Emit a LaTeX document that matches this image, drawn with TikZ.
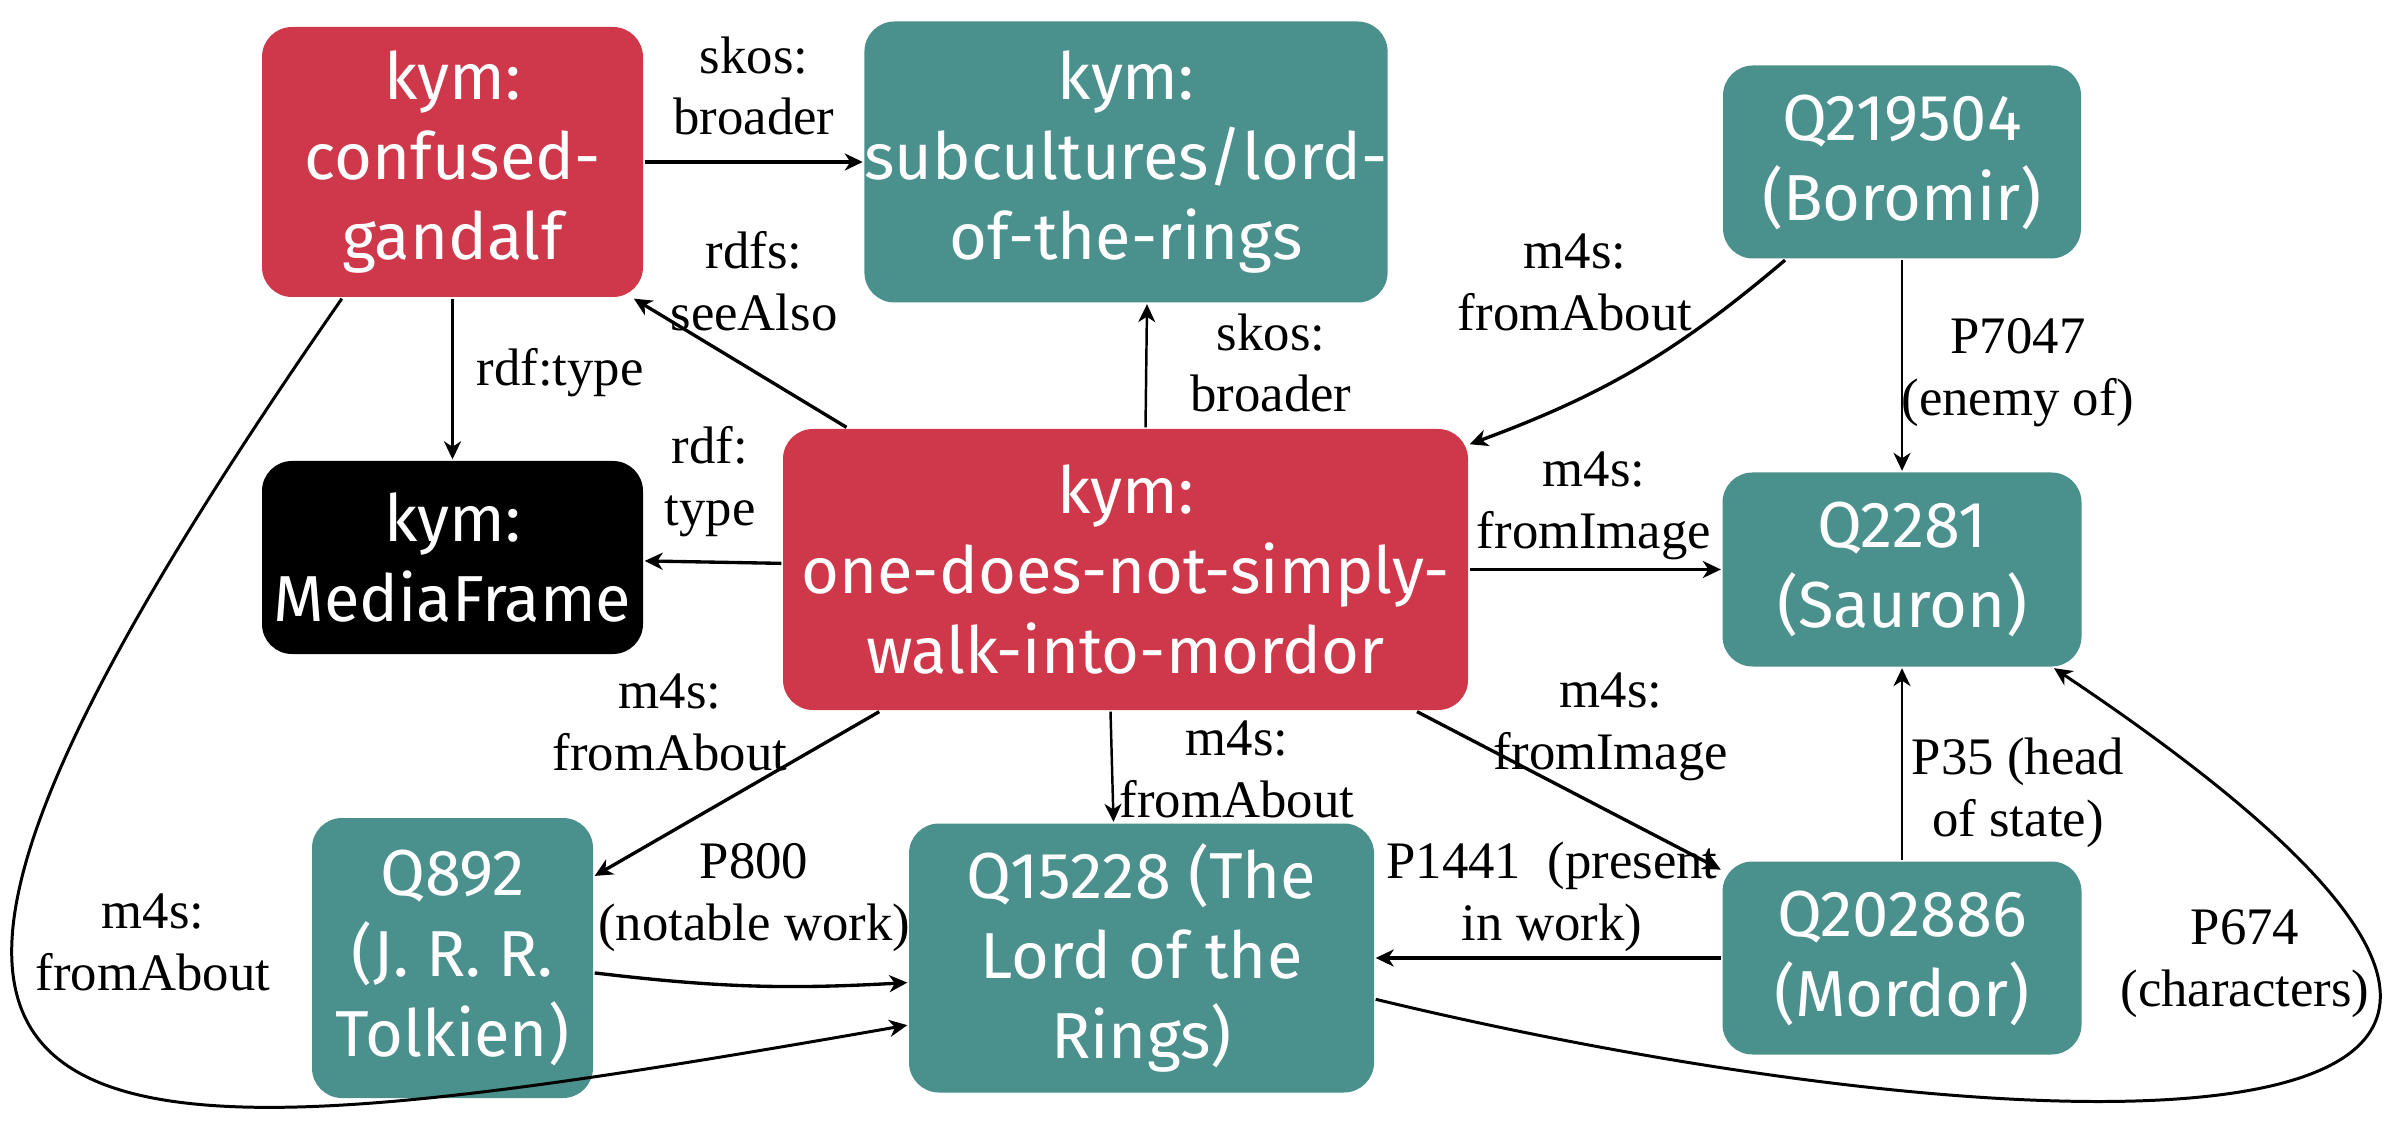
\documentclass[tikz,border=0pt]{standalone}
\usepackage{fontspec}
\usetikzlibrary{arrows.meta}
\newfontfamily\nutfont{Fira Sans}
\newfontfamily\nhanfont{Liberation Serif}
\definecolor{doMe}{RGB}{207,56,75}
\definecolor{xanhMe}{RGB}{74,144,140}
\tikzset{
	nut/.style={rounded corners=3mm,text=white,align=center,inner sep=0pt,
		font=\nutfont\fontsize{18.5}{22.8}\selectfont},
	nhan/.style={align=center,inner sep=0pt,
		font=\nhanfont\fontsize{15}{17.6}\selectfont},
}
\begin{document}
\begin{tikzpicture}[line width=.95pt,>={Stealth[length=1.8mm,width=1.7mm,inset=.55mm]},]
	\useasboundingbox (0,0) rectangle (24,11.4);
	\path
	(4.525,9.78) node[nut,fill=doMe,minimum width=3.81cm,minimum height=2.7cm] (A)
	{kym:\\confused-\\gandalf}          % <<< hàng 1
	++(0:6.735) node[nut,fill=xanhMe,minimum width=5.22cm,minimum height=2.81cm] (B)
	{kym:\\subcultures/lord-\\of-the-rings}
	++(0:7.76) node[nut,fill=xanhMe,minimum width=3.58cm,minimum height=1.93cm] (C)
	{Q219504\\(Boromir)}
	(4.525,5.825) node[nut,fill=black,minimum width=3.81cm,minimum height=1.93cm] (D)
	{kym:\\MediaFrame}                  % <<< hàng 2
	++(0:6.73) ++(-90:.12) node[nut,fill=doMe,minimum width=6.85cm,minimum height=2.81cm] (E)
	{kym:\\one-does-not-simply-\\walk-into-mordor}
	++(0:7.765) node[nut,fill=xanhMe,minimum width=3.59cm,minimum height=1.94cm] (F)
	{Q2281\\(Sauron)}
	(4.525,1.82) node[nut,fill=xanhMe,minimum width=2.81cm,minimum height=2.8cm] (G)
	{Q892\\(J. R. R.\\Tolkien)}         % <<< hàng 3
	++(0:6.89) node[nut,fill=xanhMe,minimum width=4.65cm,minimum height=2.69cm] (H)
	{Q15228 (The\\Lord of the\\Rings)}
	++(0:7.605) node[nut,fill=xanhMe,minimum width=3.59cm,minimum height=1.93cm] (I)
	{Q202886\\(Mordor)};
	\path
	(7.54,10.54) node[nhan] (a1) {skos:\\broader}
	(7.54,8.59)  node[nhan] (a2) {rdfs:\\seeAlso}
	(5.60,7.67)  node[nhan] (a3) {rdf:type}
	(7.10,6.58)  node[nhan] (a4) {rdf:\\type}
	(12.71,7.77) node[nhan] (a5) {skos:\\broader}
	(15.75,8.58) node[nhan] (a6) {m4s:\\fromAbout}
	(20.18,7.67) node[nhan] (a7) {P7047\\(enemy of)}
	(15.94,6.34) node[nhan] (a8) {m4s:\\fromImage}
	(6.70,4.18)  node[nhan] (a9) {m4s:\\fromAbout}
	(12.37,3.71) node[nhan] (a10) {m4s:\\fromAbout}
	(16.11,4.13) node[nhan] (a11) {m4s:\\fromImage}
	(7.54,2.42)  node[nhan] (a12) {P800\\(notable work)}
	(15.52,2.43) node[nhan] (a13) {P1441~ (present\\in work)}
	(20.18,3.47) node[nhan] (a14) {P35 (head\\of state)}
	(22.45,1.76) node[nhan] (a15) {P674\\(characters)}
	(1.53,1.98)  node[nhan] (a16) {m4s:\\fromAbout};
	\draw[->] (A)--(B);
	\draw[->] (E.153)--(A.-37);
	\draw[->] (A)--(D);
	\draw[->] (E)--(D);
	\draw[->,line width=.7pt] ([xshift=2mm]E.north)--([xshift=2.1mm]B.south);
	\draw[->] (C.220) to[bend left=10] (E.20);
	\draw[->,line width=.65pt] (C)--(F);
	\draw[->] (E)--(F);
	\draw[->] (E.210)--(G.30);
	\draw[->,line width=.7pt] ([xshift=-1.5mm]E.south)--([xshift=-2.8mm]H.north);
	\draw[->] (E.-26.5)--(I.154);
	\draw[->] (G.-6) to[bend right=5] (H.186);
	\draw[->] (I)--(H);
	\draw[->,line width=.65pt] (I)--(F);
	\draw[->,line width=.85pt] (H.-10.6) .. controls (20,-.1) and (28.5,-.6) .. (F.-33);
	\draw[->,line width=.85pt] (A.231) .. controls (-2.83,-.59) and (.22,-.4) .. (H.196);
\end{tikzpicture}
\end{document}
